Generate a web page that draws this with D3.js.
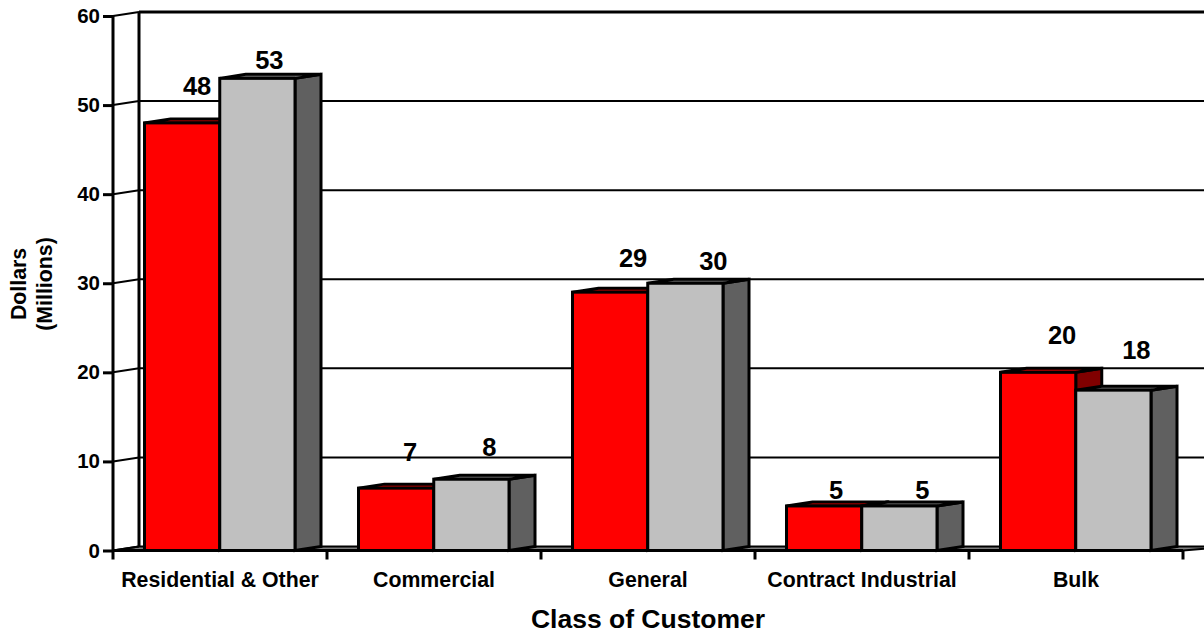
<!DOCTYPE html>
<html>
<head>
<meta charset="utf-8">
<script src="https://cdn.jsdelivr.net/npm/d3@7"></script>
<style>
  html, body { margin: 0; padding: 0; background: #fff; }
  text { font-family: "Liberation Sans", Arial, sans-serif; font-weight: bold; fill: #000; }
</style>
</head>
<body>
<div id="chart"></div>
<script>
const categories = ['Residential & Other', 'Commercial', 'General', 'Contract Industrial', 'Bulk'];
const seriesNames = ['a', 'b'];
const redValues = [48, 7, 29, 5, 20];
const grayValues = [53, 8, 30, 5, 18];
const yTicks = [0, 10, 20, 30, 40, 50, 60];

// hand placed labels in the original: offset from bar centre / bar top
const redLabelNudge = [[15, -28], [14, -27], [23, -25], [12, -7], [24, -28]];
const grayLabelNudge = [[12, -9], [18, -23], [28, -13], [23, -7], [23, -31]];

const width = 1204;
const height = 635;
const depthX = 26;
const depthY = -4;

const svg = d3.select('#chart').append('svg')
  .attr('width', width)
  .attr('height', height)
  .style('display', 'block');

const y = d3.scaleLinear().domain([0, 60]).range([550.5, 16]);
const x = d3.scaleBand().domain(categories).range([113, 1183]);
const xSub = d3.scaleBand().domain(seriesNames).range([31.5, 182]);

const poly = (pts) => pts.map((p) => p.join(',')).join(' ');

// back wall grid lines, clipped by the right edge
svg.append('g')
  .selectAll('line')
  .data(yTicks.filter((d) => d > 0))
  .enter().append('line')
    .attr('x1', x.range()[0] + depthX)
    .attr('x2', width)
    .attr('y1', (d) => y(d) + depthY)
    .attr('y2', (d) => y(d) + depthY)
    .attr('stroke', '#000')
    .attr('stroke-width', (d) => d === 60 ? 3 : 2);

// floor
const x0 = x.range()[0];
const x1 = x.range()[1];
svg.append('polygon')
  .attr('points', poly([[x0, y(0)], [x0 + depthX, y(0) + depthY], [width + 30, y(0) + depthY], [x1, y(0)]]))
  .attr('fill', '#808080')
  .attr('stroke', '#000')
  .attr('stroke-width', 2);

// side walls
svg.append('line')
  .attr('x1', x0 + depthX).attr('x2', x0 + depthX)
  .attr('y1', y(60) + depthY).attr('y2', y(0) + depthY)
  .attr('stroke', '#000').attr('stroke-width', 3);
svg.append('g')
  .selectAll('line')
  .data(yTicks)
  .enter().append('line')
    .attr('x1', x0)
    .attr('x2', x0 + depthX)
    .attr('y1', (d) => y(d))
    .attr('y2', (d) => y(d) + depthY)
    .attr('stroke', '#000')
    .attr('stroke-width', 2);

function drawBar(i, value, name, front, top, side) {
  const g = svg.append('g').attr('stroke', '#000').attr('stroke-width', 3);
  const l = x(categories[i]) + xSub(name);
  const r = l + xSub.bandwidth();
  const t = y(value);
  const b = y(0);
  g.append('polygon').attr('fill', side)
    .attr('points', poly([[r, t], [r + depthX, t + depthY], [r + depthX, b + depthY], [r, b]]));
  g.append('polygon').attr('fill', top)
    .attr('points', poly([[l, t], [l + depthX, t + depthY], [r + depthX, t + depthY], [r, t]]));
  g.append('rect').attr('fill', front)
    .attr('x', l).attr('y', t).attr('width', r - l).attr('height', b - t);
}

// bars go group by group so that each gray one covers its red neighbour
categories.forEach((c, i) => {
  drawBar(i, redValues[i], 'a', '#ff0000', '#e80000', '#800000');
  drawBar(i, grayValues[i], 'b', '#c0c0c0', '#808080', '#606060');
});

// value labels
function drawLabels(values, name, nudge) {
  svg.append('g')
    .selectAll('text')
    .data(values)
    .enter().append('text')
      .attr('text-anchor', 'middle')
      .attr('font-size', 25.5)
      .attr('x', (d, i) => x(categories[i]) + xSub(name) + xSub.bandwidth() / 2 + nudge[i][0])
      .attr('y', (d, i) => y(d) + nudge[i][1])
      .text((d) => d);
}
drawLabels(redValues, 'a', redLabelNudge);
drawLabels(grayValues, 'b', grayLabelNudge);

// axes
const yAxis = svg.append('g')
  .attr('transform', `translate(${x0},0)`)
  .call(d3.axisLeft(y).tickValues(yTicks).tickSize(10).tickPadding(3).tickFormat((d) => d));
yAxis.selectAll('.tick line').attr('stroke', '#000').attr('stroke-width', 3);
yAxis.selectAll('.tick text').attr('font-size', 20.5);
yAxis.select('.domain').remove();
svg.append('line')
  .attr('x1', x0).attr('x2', x0)
  .attr('y1', y(60)).attr('y2', y(0) + 9)
  .attr('stroke', '#000').attr('stroke-width', 3);

const xAxis = svg.append('g')
  .attr('transform', `translate(0,${y(0)})`)
  .call(d3.axisBottom(x).tickSize(0).tickPadding(21));
xAxis.select('.domain').remove();
xAxis.selectAll('.tick text').attr('font-size', 21.3);

svg.append('line')
  .attr('x1', x0).attr('x2', x1)
  .attr('y1', y(0)).attr('y2', y(0))
  .attr('stroke', '#000').attr('stroke-width', 3);

// separators between the classes
svg.append('g')
  .selectAll('line')
  .data(categories)
  .enter().append('line')
    .attr('x1', (d) => x(d) + x.bandwidth())
    .attr('x2', (d) => x(d) + x.bandwidth())
    .attr('y1', y(0))
    .attr('y2', y(0) + 9)
    .attr('stroke', '#000')
    .attr('stroke-width', 3);

// titles
svg.append('text')
  .attr('x', 648).attr('y', 628)
  .attr('text-anchor', 'middle')
  .attr('font-size', 26.5)
  .text('Class of Customer');

const yTitle = svg.append('text')
  .attr('transform', 'translate(0,284) rotate(-90)')
  .attr('text-anchor', 'middle')
  .attr('font-size', 21.3);
yTitle.append('tspan').attr('x', 0).attr('y', 26).text('Dollars');
yTitle.append('tspan').attr('x', 0).attr('y', 52).text('(Millions)');
</script>
</body>
</html>
